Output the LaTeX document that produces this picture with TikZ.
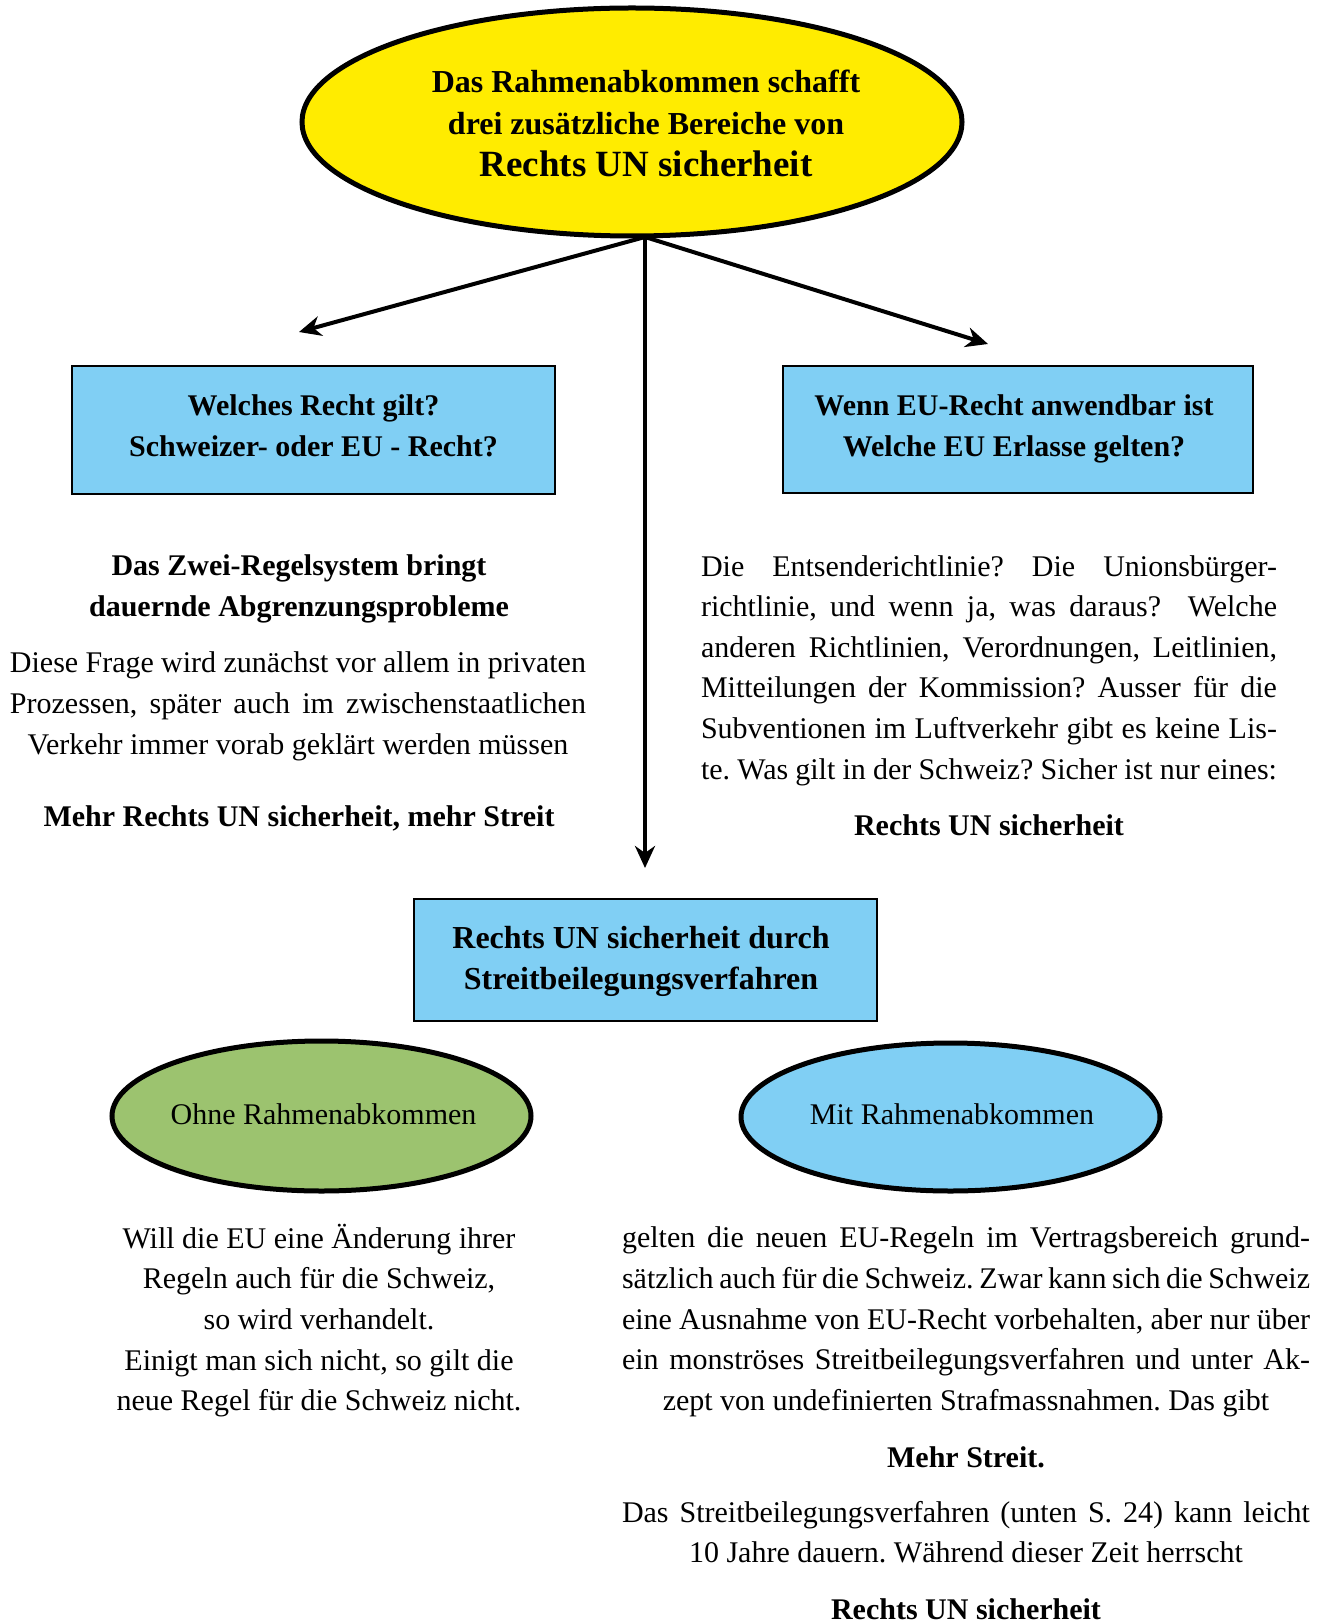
\documentclass[tikz,border=0pt]{standalone}
\usepackage{fontspec}
\setmainfont{Liberation Serif}
\usetikzlibrary{shapes.geometric,arrows.meta}
\definecolor{ryellow}{HTML}{FFEC00}
\definecolor{rblue}{HTML}{80CFF4}
\definecolor{rgreen}{HTML}{9CC36F}
\newcommand{\jl}[2]{\makebox[#1][s]{#2}}
\frenchspacing
\tikzset{
  ovalnode/.style={ellipse, draw=black, line width=2.5pt, inner sep=0pt},
  boxnode/.style={rectangle, draw=black, line width=1.1pt, fill=rblue, inner sep=0pt},
  boxtext/.style={inner sep=0pt, align=center, font=\fontsize{15}{20.5}\selectfont\bfseries},
  bodytext/.style={inner sep=0pt, align=center, font=\fontsize{15}{20.3}\selectfont},
  boldtext/.style={inner sep=0pt, align=center, font=\fontsize{15}{20.5}\selectfont\bfseries},
  arr/.style={line width=2pt, -{Stealth[length=11pt,width=10pt,inset=3.5pt]}}
}
\begin{document}
\begin{tikzpicture}[x=0.5pt,y=-0.5pt]
\useasboundingbox (0,0) rectangle (1325,1620);
% top ellipse
\node[ovalnode, fill=ryellow, minimum width=330pt, minimum height=114pt] (top) at (632,122) {};
\node[inner sep=0pt, align=center, font=\fontsize{16}{21}\selectfont\bfseries] (toptext) at (646,123)
  {Das Rahmenabkommen schafft\\
   drei zusätzliche Bereiche von\\
   {\fontsize{18.5}{21}\selectfont Rechts UN sicherheit}};
% arrows
\coordinate (src) at (645,237);
\coordinate (lend) at (299,332);
\coordinate (rend) at (988,344);
\coordinate (dend) at (645,868);
\draw[arr] (src) -- (lend);
\draw[arr] (src) -- (rend);
\draw[arr] (src) -- (dend);
% boxes
\node[boxnode, minimum width=241.5pt, minimum height=64pt] (lbox) at (313.5,430) {};
\node[boxtext] (lboxtext) at (313.5,425.9) {Welches Recht gilt?\\Schweizer- oder EU - Recht?};
\node[boxnode, minimum width=235pt, minimum height=63.5pt] (rbox) at (1018,429.5) {};
\node[boxtext] (rboxtext) at (1014,428.5) {Wenn EU-Recht anwendbar ist\\Welche EU Erlasse gelten?};
\node[boxnode, minimum width=231.5pt, minimum height=61pt] (mbox) at (645.5,960) {};
\node[boxtext, font=\fontsize{16}{20.5}\selectfont\bfseries] (mboxtext) at (641,961.5)
  {Rechts UN sicherheit durch\\Streitbeilegungsverfahren};
% left texts
\node[boldtext] (lh) at (299,589) {Das Zwei-Regelsystem bringt\\dauernde Abgrenzungsprobleme};
\node[bodytext, font=\fontsize{15}{20.5}\selectfont] (lp) at (298,706.3)
  {\jl{288pt}{Diese Frage wird zunächst vor allem in privaten}\\
   \jl{288pt}{Prozessen, später auch im zwischenstaatlichen}\\
   Verkehr immer vorab geklärt werden müssen};
\node[boldtext] (lc) at (299,818.6) {Mehr Rechts UN sicherheit, mehr Streit};
% right texts
\node[bodytext] (rp) at (989,670.4)
  {\jl{288pt}{Die Entsenderichtlinie? Die Unionsbürger-}\\
   \jl{288pt}{richtlinie, und wenn ja, was daraus? \ Welche}\\
   \jl{288pt}{anderen Richtlinien, Verordnungen, Leitlinien,}\\
   \jl{288pt}{Mitteilungen der Kommission? Ausser für die}\\
   \jl{288pt}{Subventionen im Luftverkehr gibt es keine Lis-}\\
   \jl{288pt}{te. Was gilt in der Schweiz? Sicher ist nur eines:}};
\node[boldtext] (rc) at (989,825) {Rechts UN sicherheit};
% bottom ellipses
\node[ovalnode, fill=rgreen, minimum width=209.5pt, minimum height=75pt] (ohne) at (321.5,1116) {};
\node[bodytext] (ohnetext) at (323.5,1114) {Ohne Rahmenabkommen};
\node[ovalnode, fill=rblue, minimum width=209.5pt, minimum height=74pt] (mit) at (950.5,1117) {};
\node[bodytext] (mittext) at (952,1114) {Mit Rahmenabkommen};
% bottom left text
\node[bodytext] (bl) at (319,1320.5)
  {Will die EU eine Änderung ihrer\\
   Regeln auch für die Schweiz,\\
   so wird verhandelt.\\
   Einigt man sich nicht, so gilt die\\
   neue Regel für die Schweiz nicht.};
% bottom right texts
\node[bodytext] (br) at (966,1322)
  {\jl{344pt}{gelten die neuen EU-Regeln im Vertragsbereich grund-}\\
   \jl{344pt}{sätzlich auch für die Schweiz. Zwar kann sich die Schweiz}\\
   \jl{344pt}{eine Ausnahme von EU-Recht vorbehalten, aber nur über}\\
   \jl{344pt}{ein monströses Streitbeilegungsverfahren und unter Ak-}\\
   zept von undefinierten Strafmassnahmen. Das gibt};
\node[boldtext] (ms) at (966,1457) {Mehr Streit.};
\node[bodytext] (br2) at (966,1532)
  {\jl{344pt}{Das Streitbeilegungsverfahren (unten S. 24) kann leicht}\\
   10 Jahre dauern. Während dieser Zeit herrscht};
\node[boldtext] (rc2) at (966,1609) {Rechts UN sicherheit};
\end{tikzpicture}
\end{document}
